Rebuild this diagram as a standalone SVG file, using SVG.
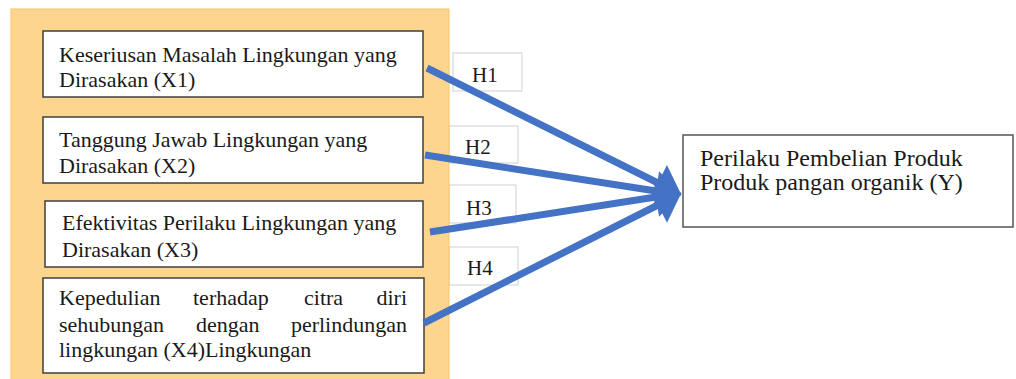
<svg xmlns="http://www.w3.org/2000/svg" width="1016" height="379" viewBox="0 0 1016 379">
<style>
.box{fill:#fff;stroke:#3f3f3f;stroke-width:1.5}
.hbox{fill:#fff;stroke:#cfcfcf;stroke-width:1}
.t{font-family:"Liberation Serif","Times New Roman",serif;font-size:22px;fill:#1a1a1a}
.h{font-size:21px}
.yt{font-size:24px}
.c{stroke:#4472C4;stroke-width:7;fill:none;marker-end:url(#ah)}
</style>
<defs>
<marker id="ah" markerUnits="userSpaceOnUse" markerWidth="30" markerHeight="40" refX="4" refY="20" orient="auto">
<path d="M4,0 L30,20 L4,40 Z" fill="#4472C4"/>
</marker>
</defs>
<rect width="1016" height="379" fill="#fff"/>
<g id="hlabels">
<g id="h1"><rect class="hbox" x="453" y="53" width="69" height="38"/><text class="t h" x="472" y="82">H1</text></g>
<g id="h2"><rect class="hbox" x="449" y="126" width="69" height="37"/><text class="t h" x="465" y="154">H2</text></g>
<g id="h3"><rect class="hbox" x="449" y="185" width="67" height="38"/><text class="t h" x="466" y="215">H3</text></g>
<g id="h4"><rect class="hbox" x="449" y="247" width="69" height="38"/><text class="t h" x="467" y="275">H4</text></g>
</g>
<rect id="panel" x="11" y="9" width="438" height="375" fill="#FED58E" stroke="#F6C46A" stroke-width="1"/>
<g id="x1"><rect class="box" x="43" y="31" width="380" height="66"/>
<text class="t" x="59" y="62">Keseriusan Masalah Lingkungan yang</text>
<text class="t" x="59" y="87">Dirasakan (X1)</text></g>
<g id="x2"><rect class="box" x="43" y="117" width="380" height="66"/>
<text class="t" x="59" y="147">Tanggung Jawab Lingkungan yang</text>
<text class="t" x="59" y="173">Dirasakan (X2)</text></g>
<g id="x3"><rect class="box" x="45" y="201" width="378" height="66"/>
<text class="t" x="62" y="230">Efektivitas Perilaku Lingkungan yang</text>
<text class="t" x="62" y="257">Dirasakan (X3)</text></g>
<g id="x4"><rect class="box" x="43" y="278" width="381" height="95"/>
<text class="t" x="59" y="305">Kepedulian</text>
<text class="t" x="193" y="305">terhadap</text>
<text class="t" x="304" y="305">citra</text>
<text class="t" x="407" y="305" text-anchor="end">diri</text>
<text class="t" x="59" y="332">sehubungan</text>
<text class="t" x="196" y="332">dengan</text>
<text class="t" x="407" y="332" text-anchor="end">perlindungan</text>
<text class="t" x="59" y="357">lingkungan (X4)Lingkungan</text></g>
<g id="y"><rect class="box" x="683" y="135" width="330" height="92" style="stroke:#555"/>
<text class="t yt" x="700" y="166">Perilaku Pembelian Produk</text>
<text class="t yt" x="700" y="190">Produk pangan organik (Y)</text></g>
<g id="connectors">
<line class="c" x1="427" y1="68" x2="658" y2="183"/>
<line class="c" x1="425" y1="155" x2="656" y2="191"/>
<line class="c" x1="430" y1="232" x2="656" y2="197"/>
<line class="c" x1="424" y1="323" x2="658" y2="205"/>
</g>
</svg>
